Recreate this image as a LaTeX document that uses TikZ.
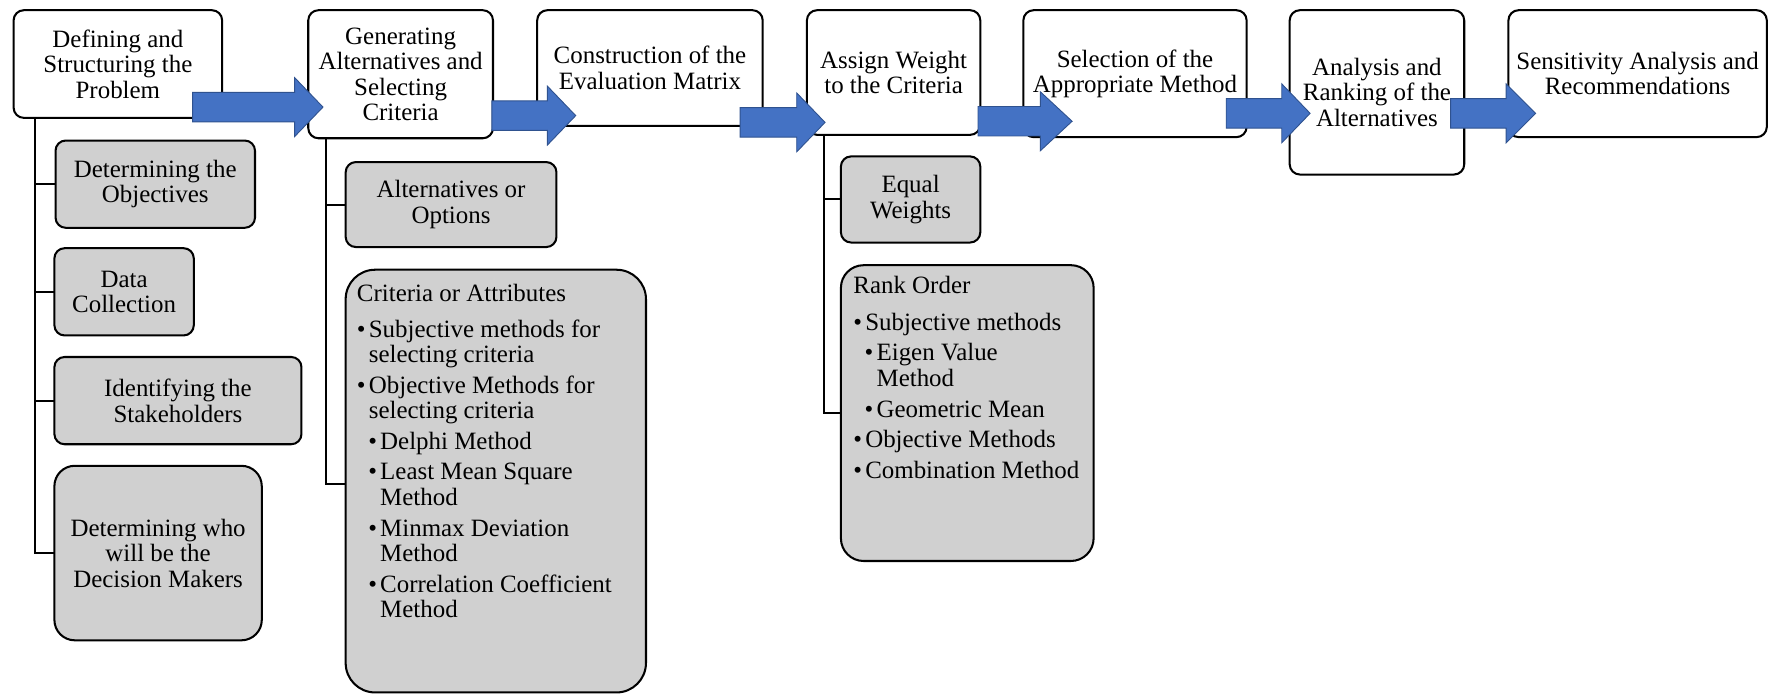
\documentclass[tikz,border=0pt]{standalone}
\usepackage{fontspec}
\setmainfont{Liberation Serif}
\definecolor{subgrey}{RGB}{208,208,208}
\definecolor{flowblue}{RGB}{68,114,196}
\definecolor{flowedge}{RGB}{47,82,143}

% bulleted entries inside the large grey boxes (continuation lines hang under the text)
\newcommand\entryA[2]{\par\vspace{#1}\hangindent=10.5pt\hangafter=1\noindent\makebox[10.5pt][l]{•}#2}
\newcommand\entryB[2]{\par\vspace{#1}\hangindent=20.5pt\hangafter=1\noindent\hspace*{10pt}\makebox[10.5pt][l]{•}#2}
% block arrow: start x, head start x, tip x, centre y
\newcommand\blockarrow[4]{%
  \draw[flow] (#1,#4-13) -- (#2,#4-13) -- (#2,#4-26) -- (#3,#4) -- (#2,#4+26)
    -- (#2,#4+13) -- (#1,#4+13) -- cycle;}

\begin{document}
\begin{tikzpicture}[x=1pt,y=-1pt,
  every node/.style={font=\fontsize{22}{22.5}\selectfont, inner sep=0pt, outer sep=0pt},
  stage/.style={draw=black, line width=1.8pt, fill=white, rounded corners=9pt,
    anchor=north west, align=center},
  sub/.style={stage, fill=subgrey},
  link/.style={draw=black, line width=1.8pt},
  flow/.style={fill=flowblue, draw=flowedge, line width=0.8pt, line join=miter}]

\useasboundingbox (0,0) rectangle (1568,613);

% main stages
\node[stage, minimum width=184pt, minimum height=95pt]  (b1) at (12,9)   {Defining and\\Structuring the\\Problem};
\node[stage, minimum width=163pt, minimum height=113pt] (b2) at (272,9)  {Generating\\Alternatives and\\Selecting\\Criteria};
\node[stage, minimum width=199pt, minimum height=102pt] (b3) at (474,9)  {Construction of the\\Evaluation Matrix};
\node[stage, minimum width=153pt, minimum height=110pt] (b4) at (712,9)  {Assign Weight\\to the Criteria};
\node[stage, minimum width=197pt, minimum height=112pt] (b5) at (903,9)  {Selection of the\\Appropriate Method};
\node[stage, minimum width=154pt, minimum height=145pt] (b6) at (1138,9) {Analysis and\\Ranking of the\\Alternatives};
\node[stage, minimum width=228pt, minimum height=112pt] (b7) at (1331,9) {Sensitivity Analysis and\\Recommendations};

% sub-steps of the first stage
\node[sub, minimum width=176pt, minimum height=77pt] (c11) at (49,124) {Determining the\\Objectives};
\node[sub, minimum width=123pt, minimum height=77pt] (c12) at (48,219) {Data\\Collection};
\node[sub, minimum width=218pt, minimum height=77pt] (c13) at (48,315) {Identifying the\\Stakeholders};
\node[sub, rounded corners=18pt, minimum width=183pt, minimum height=154pt] (c14) at (48,411)
  {Determining who\\will be the\\Decision Makers};

% sub-steps of the second stage
\node[sub, minimum width=186pt, minimum height=75pt] (c21) at (305,143) {Alternatives or\\Options};
\node[sub, rounded corners=26pt, minimum width=265pt, minimum height=373pt] (c22) at (305,238) {};
\node[anchor=base west] (c22t) at (315,266) {\parbox[t]{250pt}{\raggedright
  Criteria or Attributes
  \entryA{9pt}{Subjective methods for\newline selecting criteria}
  \entryA{4.5pt}{Objective Methods for\newline selecting criteria}
  \entryB{4.5pt}{Delphi Method}
  \entryB{4.5pt}{Least Mean Square\newline Method}
  \entryB{4.5pt}{Minmax Deviation\newline Method}
  \entryB{4.5pt}{Correlation Coefficient\newline Method}}};

% sub-steps of the fourth stage
\node[sub, minimum width=123pt, minimum height=76pt] (c41) at (742,138) {Equal\\Weights};
\node[sub, rounded corners=20pt, minimum width=223pt, minimum height=261pt] (c42) at (742,234) {};
\node[anchor=base west] (c42t) at (753,259) {\parbox[t]{210pt}{\raggedright
  Rank Order
  \entryA{10pt}{Subjective methods}
  \entryB{4.5pt}{Eigen Value\newline Method}
  \entryB{4.5pt}{Geometric Mean}
  \entryA{4.5pt}{Objective Methods}
  \entryA{4.5pt}{Combination Method}}};

% tree connectors
\coordinate (t1) at ([xshift=19pt]b1.south west);
\coordinate (t2) at ([xshift=16pt]b2.south west);
\coordinate (t4) at ([xshift=15pt]b4.south west);
\draw[link] (t1) |- (c14.west);
\draw[link] (c11.west) -- (c11.west -| t1);
\draw[link] (c12.west) -- (c12.west -| t1);
\draw[link] (c13.west) -- (c13.west -| t1);
\draw[link] (t2) |- ([yshift=-2.5pt]c22.west);
\draw[link] (c21.west) -- (c21.west -| t2);
\draw[link] (t4) |- (c42.west);
\draw[link] (c41.west) -- (c41.west -| t4);

% flow arrows between stages
\blockarrow{170}{260}{285}{94.5}
\blockarrow{434}{483}{508}{102}
\blockarrow{653}{703}{728}{108}
\blockarrow{863}{918}{946}{107}
\blockarrow{1082}{1131}{1156}{100}
\blockarrow{1280}{1329}{1355}{100}
\end{tikzpicture}
\end{document}
